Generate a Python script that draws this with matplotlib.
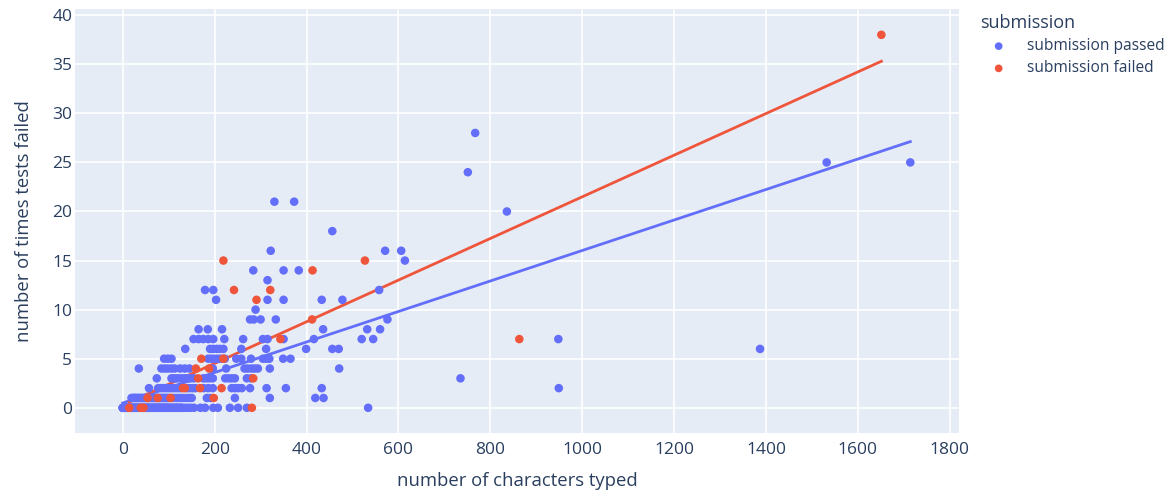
import numpy as np
import matplotlib.pyplot as plt

# characters typed vs. times tests failed
# passed submissions, one list of x per y value (dense rows hold overlapping dots)
passed_rows = {
    0: [0, 0, 0, 0, 2, 3, 5, 6, 8, 9, 10, 12, 14, 15, 17, 18, 20, 21, 23, 25, 27, 28,
        30, 32, 34, 36, 38, 40, 42, 44, 46, 48, 50, 52, 54, 56, 58, 60, 62, 64, 66,
        68, 70, 72, 74, 76, 78, 80, 82, 84, 86, 88, 90, 92, 94, 96, 98, 100, 103, 105,
        108, 110, 113, 115, 118, 120, 123, 125, 128, 130, 136, 142, 148, 155, 169,
        179, 197, 207, 233, 251, 270, 534],
    1: [19, 22, 24, 27, 29, 32, 34, 37, 40, 43, 46, 49, 52, 55, 58, 61, 64, 67, 70, 73,
        76, 79, 82, 85, 88, 91, 94, 97, 100, 106, 112, 118, 124, 130, 137, 144, 150,
        183, 191, 244, 320, 419, 437],
    2: [57, 77, 83, 89, 95, 101, 107, 113, 119, 125, 140, 146, 152, 158, 176, 186,
        196, 237, 244, 251, 259, 277, 313, 355, 433, 949],
    3: [74, 106, 112, 118, 124, 130, 136, 142, 148, 155, 175, 182, 189, 196, 223, 230,
        237, 244, 270, 279, 735],
    4: [35, 84, 91, 98, 106, 113, 125, 135, 145, 196, 225, 265, 272, 280, 287, 294,
        320, 471],
    5: [90, 98, 106, 186, 193, 200, 207, 214, 222, 247, 258, 279, 305, 312, 319, 349,
        365],
    6: [136, 190, 197, 204, 211, 219, 258, 312, 399, 456, 470, 1387],
    7: [154, 165, 175, 186, 197, 221, 262, 305, 315, 350, 416, 520, 545, 948],
    8: [165, 185, 216, 436, 532, 560],
    9: [277, 285, 300, 333, 576],
    10: [289],
    11: [203, 315, 350, 433, 478],
    12: [179, 197, 558],
    13: [315],
    14: [284, 350, 383],
    15: [614],
    16: [322, 571, 606],
    18: [456],
    20: [836],
    21: [330, 373],
    24: [751],
    25: [1532, 1714],
    28: [767],
}

failed_rows = {
    0: [14, 39, 45, 281],
    1: [54, 76, 104, 198],
    2: [131, 135, 168, 215],
    3: [164, 284],
    4: [159, 188],
    5: [171, 219],
    7: [343, 863],
    9: [412],
    11: [291],
    12: [242, 321],
    14: [413],
    15: [219, 527],
    38: [1651],
}

series_names = ["submission passed", "submission failed"]
series_colors = ["#636efa", "#EF553B"]
FONT = ["Open Sans", "DejaVu Sans"]


def flatten(rows):
    xs, ys = [], []
    for y, row in rows.items():
        xs += row
        ys += [y] * len(row)
    return np.array(xs, float), np.array(ys, float)


fig = plt.figure(figsize=(11.71, 4.91), dpi=100)
ax = fig.add_axes([75 / 1171, 1 - 433.3 / 491, 884 / 1171, 424 / 491])
ax.set_facecolor("#E5ECF6")
for s in ax.spines.values():
    s.set_visible(False)

text_col = "#2a3f5f"

handles = []
for rows, name, col in zip([passed_rows, failed_rows], series_names, series_colors):
    x, y = flatten(rows)
    h = ax.scatter(x, y, s=38, color=col, edgecolors="none", zorder=3, label=name)
    handles.append(h)
    # OLS trendline like plotly express
    k, b = np.polyfit(x, y, 1)
    xl = np.array([x.min(), x.max()])
    ax.plot(xl, k * xl + b, color=col, lw=2, zorder=2)

ax.set_xlim(-104, 1820)
ax.set_ylim(-2.6, 40.6)
ax.set_xticks(np.arange(0, 1801, 200))
ax.set_yticks(np.arange(0, 41, 5))
ax.grid(True, color="white", lw=1.2, zorder=0)
ax.set_axisbelow(True)
ax.tick_params(length=0, labelsize=12.5, labelcolor=text_col)
ax.tick_params(axis="x", pad=6)
ax.tick_params(axis="y", pad=2)
for lab in ax.get_xticklabels() + ax.get_yticklabels():
    lab.set_family(FONT)

ax.set_xlabel("number of characters typed", fontsize=13.3, color=text_col,
              labelpad=10, family=FONT)
ax.set_ylabel("number of times tests failed", fontsize=13.3, color=text_col,
              labelpad=14, family=FONT)

leg = fig.legend(handles=handles, loc="upper left", bbox_to_anchor=(966 / 1171, 1 - 0 / 491),
                 frameon=False, title="submission", alignment="left",
                 prop={"family": FONT, "size": 11.2},
                 handletextpad=0.6, handlelength=2.4, markerscale=0.9, labelspacing=0.4)
leg.get_title().set_fontsize(13)
leg.get_title().set_color(text_col)
leg.get_title().set_family(FONT)
for t in leg.get_texts():
    t.set_color(text_col)

fig.savefig("out.png", dpi=100)
